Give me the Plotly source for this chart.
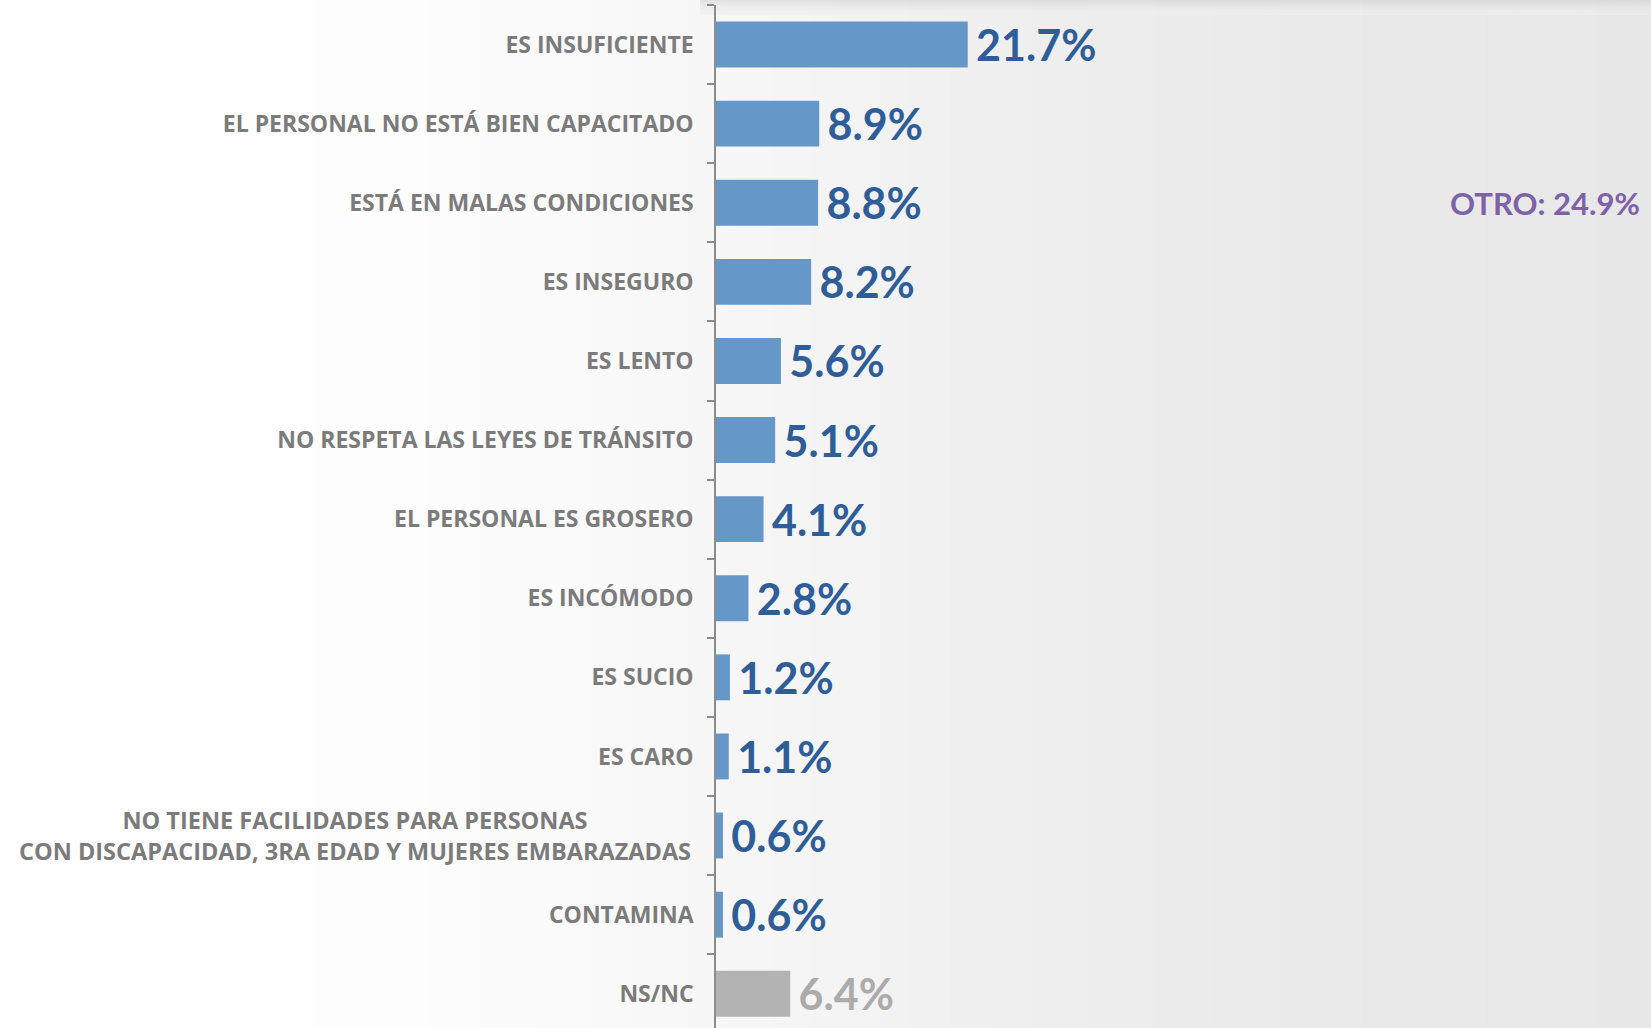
import plotly.graph_objects as go

categories = [
    "ES INSUFICIENTE",
    "EL PERSONAL NO ESTÁ BIEN CAPACITADO",
    "ESTÁ EN MALAS CONDICIONES",
    "ES INSEGURO",
    "ES LENTO",
    "NO RESPETA LAS LEYES DE TRÁNSITO",
    "EL PERSONAL ES GROSERO",
    "ES INCÓMODO",
    "ES SUCIO",
    "ES CARO",
    "NO TIENE FACILIDADES PARA PERSONAS<br>CON DISCAPACIDAD, 3RA EDAD Y MUJERES EMBARAZADAS",
    "CONTAMINA",
    "NS/NC",
]
values = [21.7, 8.9, 8.8, 8.2, 5.6, 5.1, 4.1, 2.8, 1.2, 1.1, 0.6, 0.6, 6.4]
other_label = "OTRO"
other_value = 24.9
other_row = "ESTÁ EN MALAS CONDICIONES"

W, H = 1651, 1028
ML, MR, MT, MB = 716, 0, 5, 0
PW, PH = W - ML - MR, H - MT - MB

BLUE = "#6597C9"
BLUE_TXT = "#2E5D98"
GRAY_BAR = "#B3B3B3"
GRAY_TXT = "#ABABAB"
LABEL_COL = "#7B7B7B"
VAL_FONT = "Lato"
LBL_FONT = "Open Sans"

bar_colors = [GRAY_BAR if c == "NS/NC" else BLUE for c in categories]
txt_colors = [GRAY_TXT if c == "NS/NC" else BLUE_TXT for c in categories]

fig = go.Figure()
fig.add_trace(go.Bar(
    y=categories, x=values, orientation="h",
    marker=dict(color=bar_colors, line=dict(width=0)),
    texttemplate="\u2009%{x:.1f}%", textposition="outside", constraintext="none",
    textfont=dict(family=VAL_FONT, size=43, color=txt_colors, weight="bold"),
    cliponaxis=False, width=0.58, hoverinfo="skip",
))

# background gradient (style only)
def shade(px):
    pts = [(0, 255), (400, 253), (716, 247), (1000, 239), (1300, 234), (1651, 231)]
    for (x0, c0), (x1, c1) in zip(pts, pts[1:]):
        if x0 <= px <= x1:
            return c0 + (c1 - c0) * (px - x0) / (x1 - x0)
    return pts[-1][1]

shapes = []
N = 120
for i in range(N):
    p0 = i * W / N
    p1 = (i + 1) * W / N
    v = shade((p0 + p1) / 2)
    col = f"rgb({v:.1f},{v:.1f},{v:.1f})"
    shapes.append(dict(type="rect", layer="below", xref="paper", yref="paper",
                       x0=(p0 - ML) / PW, x1=(p1 - ML) / PW + 0.001,
                       y0=-0.01, y1=1 + (MT + 2) / PH,
                       fillcolor=col, line=dict(width=0)))
# top shadow strip
for k, v in enumerate([212, 220, 227, 232, 236, 239]):
    y1 = 1 + (MT - k * 2.5) / PH
    y0 = 1 + (MT - (k + 1) * 2.5) / PH
    shapes.append(dict(type="rect", layer="below", xref="paper", yref="paper",
                       x0=(700 - ML) / PW, x1=1.0, y0=y0, y1=y1,
                       fillcolor=f"rgba({v},{v},{v},0.6)", line=dict(width=0)))

ticktext = ["" if "<br>" in c else c for c in categories]

annotations = []
for c in categories:
    if "<br>" in c:
        annotations.append(dict(
            xref="paper", yref="y", x=0, y=c, xanchor="right", xshift=-23,
            text=c, showarrow=False, align="center",
            font=dict(family=LBL_FONT, size=23.5, color=LABEL_COL, weight="bold"),
        ))
annotations.append(dict(
    xref="paper", yref="y", x=1, y=other_row, xanchor="right", xshift=-9,
    text=f"{other_label}: {other_value:.1f}%", showarrow=False,
    font=dict(family=VAL_FONT, size=31, color="#7E62A8", weight="bold"),
))

px_per_row = 79.1
rows = PH / px_per_row

fig.update_layout(
    width=W, height=H,
    margin=dict(l=ML, r=MR, t=MT, b=MB, autoexpand=False),
    paper_bgcolor="white", plot_bgcolor="rgba(0,0,0,0)",
    showlegend=False,
    shapes=shapes, annotations=annotations,
    xaxis=dict(range=[0, PW / 11.6], visible=False, fixedrange=True),
    yaxis=dict(
        type="category", categoryorder="array", categoryarray=categories,
        range=[rows - 0.5, -0.5], automargin=False,
        tickmode="array", tickvals=categories, ticktext=ticktext,
        tickson="boundaries", ticks="outside", ticklen=7, tickwidth=1.5,
        tickcolor="#8C8C8C", showline=True, linecolor="#8C8C8C", linewidth=1.5,
        showgrid=False, zeroline=False, ticklabelstandoff=16,
        tickfont=dict(family=LBL_FONT, size=23, color=LABEL_COL, weight="bold"),
        fixedrange=True,
    ),
)

fig.write_html("out.html", config={"displayModeBar": False},
               post_script="document.body.style.margin='0';document.body.style.overflow='hidden';")
